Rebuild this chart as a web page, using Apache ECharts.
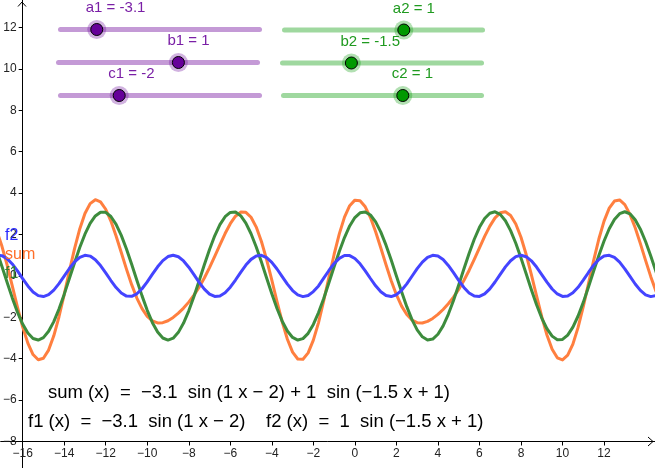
<!DOCTYPE html>
<html>
<head>
<meta charset="utf-8">
<script src="https://cdn.jsdelivr.net/npm/echarts@6.0.0/dist/echarts.min.js"></script>
<style>
html,body{margin:0;padding:0;background:#fff;}
#chart{width:655px;height:468px;}
</style>
</head>
<body>
<div id="chart"></div>
<script>
// ---- data ----
const xs = [-17.5,-17.25,-17,-16.75,-16.5,-16.25,-16,-15.75,-15.5,-15.25,
  -15,-14.75,-14.5,-14.25,-14,-13.75,-13.5,-13.25,-13,-12.75,
  -12.5,-12.25,-12,-11.75,-11.5,-11.25,-11,-10.75,-10.5,-10.25,
  -10,-9.75,-9.5,-9.25,-9,-8.75,-8.5,-8.25,-8,-7.75,
  -7.5,-7.25,-7,-6.75,-6.5,-6.25,-6,-5.75,-5.5,-5.25,
  -5,-4.75,-4.5,-4.25,-4,-3.75,-3.5,-3.25,-3,-2.75,
  -2.5,-2.25,-2,-1.75,-1.5,-1.25,-1,-0.75,-0.5,-0.25,
  0,0.25,0.5,0.75,1,1.25,1.5,1.75,2,2.25,
  2.5,2.75,3,3.25,3.5,3.75,4,4.25,4.5,4.75,
  5,5.25,5.5,5.75,6,6.25,6.5,6.75,7,7.25,
  7.5,7.75,8,8.25,8.5,8.75,9,9.25,9.5,9.75,
  10,10.25,10.5,10.75,11,11.25,11.5,11.75,12,12.25,
  12.5,12.75,13,13.25,13.5,13.75,14,14.25,14.5,14.75,
  15];
const f1Values = [1.877,1.208,0.465,-0.308,-1.062,-1.749,-2.328,-2.762,-3.024,-3.099,
  -2.980,-2.677,-2.207,-1.599,-0.892,-0.130,0.640,1.371,2.016,2.536,
  2.898,3.080,3.071,2.871,2.492,1.958,1.303,0.566,-0.206,-0.964,
  -1.663,-2.259,-2.714,-3.000,-3.100,-3.007,-2.727,-2.278,-1.686,-0.990,
  -0.233,0.539,1.278,1.937,2.475,2.860,3.067,3.083,2.908,2.552,
  2.037,1.395,0.667,-0.103,-0.866,-1.576,-2.187,-2.663,-2.973,-3.098,
  -3.030,-2.775,-2.346,-1.772,-1.087,-0.335,0.437,1.183,1.855,2.412,
  2.819,3.050,3.092,2.942,2.609,2.113,1.486,0.767,0,-0.767,
  -1.486,-2.113,-2.609,-2.942,-3.092,-3.050,-2.819,-2.412,-1.855,-1.183,
  -0.437,0.335,1.087,1.772,2.346,2.775,3.030,3.098,2.973,2.663,
  2.187,1.576,0.866,0.103,-0.667,-1.395,-2.037,-2.552,-2.908,-3.083,
  -3.067,-2.860,-2.475,-1.937,-1.278,-0.539,0.233,0.990,1.686,2.278,
  2.727,3.007,3.100,3.000,2.714,2.259,1.663,0.964,0.206,-0.566,
  -1.303];
const f2Values = [0.854,0.985,0.979,0.837,0.579,0.240,-0.132,-0.486,-0.773,-0.951,
  -0.998,-0.906,-0.688,-0.375,-0.009,0.358,0.675,0.898,0.997,0.957,
  0.784,0.502,0.150,-0.223,-0.564,-0.828,-0.976,-0.988,-0.864,-0.619,
  -0.288,0.083,0.442,0.740,0.935,1.000,0.926,0.723,0.420,0.059,
  -0.311,-0.638,-0.876,-0.992,-0.970,-0.814,-0.544,-0.199,0.174,0.522,
  0.799,0.964,0.995,0.888,0.657,0.335,-0.033,-0.397,-0.706,-0.916,
  -0.999,-0.944,-0.757,-0.482,-0.108,0.263,0.599,0.850,0.984,0.981,
  0.842,0.585,0.247,-0.125,-0.479,-0.768,-0.949,-0.999,-0.909,-0.694,
  -0.382,-0.017,0.351,0.669,0.895,0.996,0.959,0.788,0.508,0.158,
  -0.215,-0.558,-0.823,-0.974,-0.989,-0.867,-0.625,-0.295,0.075,0.435,
  0.735,0.932,1.000,0.929,0.729,0.427,0.066,-0.304,-0.632,-0.872,
  -0.991,-0.972,-0.818,-0.550,-0.207,0.166,0.516,0.794,0.961,0.995,
  0.891,0.663,0.343,-0.025,-0.390,-0.700,-0.913,-0.999,-0.946,-0.762,
  -0.472];
const sumValues = [2.731,2.193,1.444,0.529,-0.483,-1.509,-2.460,-3.248,-3.797,-4.050,
  -3.978,-3.583,-2.895,-1.974,-0.901,0.228,1.315,2.269,3.013,3.493,
  3.682,3.582,3.221,2.648,1.928,1.130,0.327,-0.422,-1.070,-1.583,
  -1.951,-2.176,-2.272,-2.260,-2.165,-2.007,-1.801,-1.555,-1.266,-0.931,
  -0.544,-0.099,0.402,0.945,1.505,2.046,2.523,2.884,3.082,3.074,
  2.836,2.359,1.662,0.785,-0.209,-1.241,-2.220,-3.060,-3.679,-4.014,
  -4.029,-3.719,-3.103,-2.254,-1.195,-0.072,1.036,2.033,2.839,3.393,
  3.661,3.635,3.339,2.817,2.130,1.345,0.537,-0.232,-0.909,-1.461,
  -1.868,-2.130,-2.258,-2.273,-2.197,-2.054,-1.860,-1.624,-1.347,-1.025,
  -0.652,-0.223,0.264,0.798,1.357,1.908,2.405,2.803,3.048,3.098,
  2.922,2.508,1.866,1.032,0.062,-0.968,-1.971,-2.856,-3.540,-3.955,
  -4.058,-3.832,-3.293,-2.487,-1.485,-0.373,0.749,1.784,2.647,3.273,
  3.618,3.670,3.443,2.975,2.324,1.559,0.750,-0.035,-0.740,-1.328,
  -1.775];
const xTicks = [-16,-14,-12,-10,-8,-6,-4,-2,0,2,4,6,8,10,12];
const yTicks = [-8,-6,-4,-2,0,2,4,6,8,10,12];
const sliderNames = ['a1','b1','c1','a2','b2','c2'];
const sliderValues = [-3.1, 1, -2, 1, -1.5, 1];
const sliderRange = [-5, 5];
const formulaSum = 'sum (x)  =  \u22123.1  sin (1 x \u2212 2) + 1  sin (\u22121.5 x + 1)';
const formulaF = 'f1 (x)  =  \u22123.1  sin (1 x \u2212 2)    f2 (x)  =  1  sin (\u22121.5 x + 1)';

// ---- layout / style ----
const C_SUM = '#ff7f3f', C_F1 = '#3d8c3d', C_F2 = '#4444ff';
const PURPLE_TRACK = '#c49ad6', PURPLE = '#660099', PURPLE_TXT = '#7a1fa6';
const GREEN_TRACK = '#9fd89f', GREEN = '#009900', GREEN_TXT = '#1f9a1f';
const FONT = '"Liberation Sans", Arial, sans-serif';
const sliderLayout = [
  {x:58,y:29.5,w:204},{x:56,y:62.5,w:204},{x:58,y:95.5,w:204},
  {x:282,y:30,w:203},{x:280,y:63,w:204},{x:281,y:95.5,w:203}
];
const minusFmt = v => String(v).replace('-', '\u2212');

const graphics = [];
sliderNames.forEach((name, i) => {
  const L = sliderLayout[i];
  const purple = i < 3;
  const frac = (sliderValues[i] - sliderRange[0]) / (sliderRange[1] - sliderRange[0]);
  const kx = L.x + frac * L.w;
  graphics.push({type:'line', shape:{x1:L.x+2.5,y1:L.y,x2:L.x+L.w-2.5,y2:L.y},
    style:{stroke: purple?PURPLE_TRACK:GREEN_TRACK, lineWidth:5, lineCap:'round'}, z:10});
  graphics.push({type:'circle', shape:{cx:kx,cy:L.y,r:9.5},
    style:{fill: purple?PURPLE:GREEN, opacity:0.3}, z:11});
  graphics.push({type:'circle', shape:{cx:kx,cy:L.y,r:6},
    style:{fill: purple?PURPLE:GREEN, stroke:'#000', lineWidth:1}, z:12});
  graphics.push({type:'text', left:kx-11, top:L.y-29,
    style:{text: name + ' = ' + sliderValues[i], fill: purple?PURPLE_TXT:GREEN_TXT,
      font:'15px ' + FONT}, z:12});
});
// axis arrows
graphics.push({type:'polyline', shape:{points:[[648,437],[653,441.5],[648,446]]},
  style:{stroke:'#000', lineWidth:1, fill:null}, z:5});
graphics.push({type:'polyline', shape:{points:[[18,6.5],[22,2],[26,6.5]]},
  style:{stroke:'#000', lineWidth:1, fill:null}, z:5});
// curve labels
graphics.push({type:'text', left:5, top:228, style:{text:'f2', fill:'#2a2aff', font:'16px ' + FONT}, z:6});
graphics.push({type:'text', left:5, top:247, style:{text:'sum', fill:'#ff6f2a', font:'16px ' + FONT}, z:6});
graphics.push({type:'text', left:5, top:266, style:{text:'f1', fill:'#2f7f2f', font:'16px ' + FONT}, z:6});
// formulas
graphics.push({type:'text', left:48, top:383, style:{text:formulaSum, fill:'#000', font:'18.5px ' + FONT}, z:6});
graphics.push({type:'text', left:28, top:412, style:{text:formulaF, fill:'#000', font:'18.5px ' + FONT}, z:6});

const pts = vals => xs.map((x, i) => [x, vals[i]]);
const lineSeries = (name, vals, color) => ({
  name, type:'line', data: pts(vals), smooth:false, showSymbol:false, symbol:'none',
  lineStyle:{color, width:3, join:'round', cap:'round'}, itemStyle:{color}, clip:true, z:3
});

const chart = echarts.init(document.getElementById('chart'), null, {renderer:'canvas'});
chart.setOption({
  animation:false,
  backgroundColor:'#ffffff',
  grid:{left:0, right:0, top:0, bottom:0, containLabel:false},
  xAxis:{type:'value', min:-17.058, max:14.454, position:'bottom', offset:-26.5,
    axisLine:{onZero:false, lineStyle:{color:'#000', width:1}},
    axisTick:{show:true, length:4, inside:false, customValues:xTicks, lineStyle:{color:'#000'}},
    axisLabel:{customValues:xTicks, formatter:minusFmt, color:'#222', fontSize:12, margin:6,
      fontFamily:FONT},
    splitLine:{show:false}},
  yAxis:{type:'value', min:-9.28, max:13.33, position:'left', offset:-22,
    axisLine:{onZero:false, lineStyle:{color:'#000', width:1}},
    axisTick:{show:true, length:4, inside:false, customValues:yTicks, lineStyle:{color:'#000'}},
    axisLabel:{customValues:yTicks, formatter:minusFmt, color:'#222', fontSize:12, margin:6,
      fontFamily:FONT},
    splitLine:{show:false}},
  series:[
    lineSeries('sum', sumValues, C_SUM),
    lineSeries('f1', f1Values, C_F1),
    lineSeries('f2', f2Values, C_F2)
  ],
  graphic: graphics
});
</script>
</body>
</html>
